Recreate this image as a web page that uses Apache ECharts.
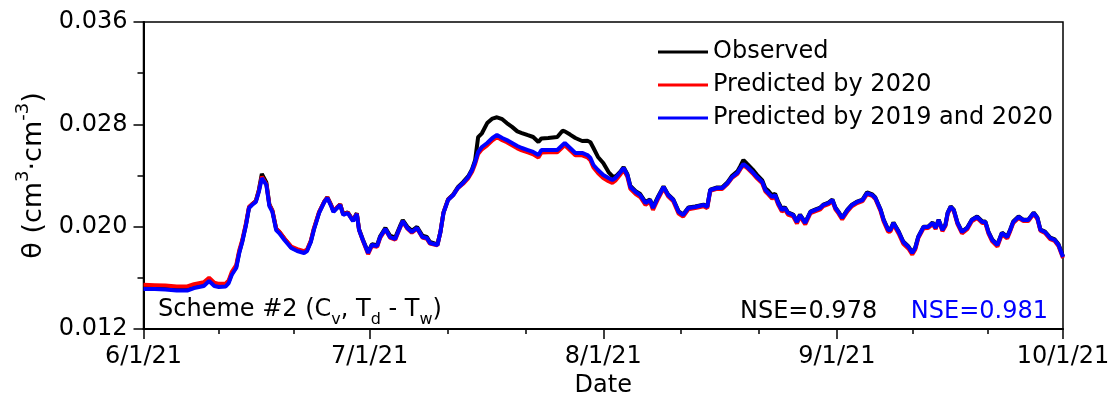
<!DOCTYPE html>
<html>
<head>
<meta charset="utf-8">
<script src="https://cdn.jsdelivr.net/npm/echarts@6/dist/echarts.min.js"></script>
<style>html,body{margin:0;padding:0;background:#fff;}#c{width:1116px;height:405px;}</style>
</head>
<body>
<div id="c"></div>
<script>
// days since 2021-06-01
const days = [
0.0,1.5,2.9,4.4,5.8,6.7,8.0,8.7,9.4,10.0,
10.9,11.3,11.7,12.3,12.7,13.1,13.6,14.0,14.4,14.9,
15.3,15.7,16.3,16.7,17.1,17.6,18.0,18.7,19.6,20.4,
21.3,21.7,22.2,22.6,23.3,24.0,24.4,24.9,25.2,25.7,
26.1,26.5,27.1,27.8,28.3,28.6,29.1,29.8,30.3,31.0,
31.4,32.1,32.7,33.4,34.0,34.4,35.0,35.6,36.3,37.0,
37.6,38.0,39.0,39.4,39.8,40.4,41.1,41.7,42.4,43.1,
43.6,44.0,44.4,44.9,45.6,46.3,46.9,47.6,48.2,48.9,
49.6,50.2,51.0,51.7,52.4,52.8,53.7,54.9,55.6,55.9,
56.6,57.3,58.2,58.9,59.3,59.7,60.3,61.0,61.7,62.2,
62.6,63.3,63.7,64.2,64.6,65.3,65.9,66.6,67.2,67.6,
68.3,69.0,69.6,70.3,71.0,71.6,72.3,73.2,74.3,74.8,
75.2,76.1,76.8,77.5,78.1,78.8,79.2,79.6,80.1,80.8,
81.4,82.1,82.5,82.9,83.4,83.8,84.2,84.7,85.1,85.5,
86.2,86.7,87.1,87.8,88.5,89.1,89.8,90.2,90.9,91.4,
91.8,92.2,92.7,93.4,94.0,94.7,95.4,96.0,96.7,97.1,
97.8,98.2,98.8,99.1,99.5,100.2,100.8,101.5,102.0,102.4,
102.8,103.5,104.1,104.7,105.1,105.5,106.0,106.4,106.7,107.1,
107.5,108.0,108.6,109.3,109.9,110.6,111.3,111.7,112.1,112.6,
113.3,113.9,114.6,115.0,115.4,116.1,116.7,117.4,118.1,118.6,
119.0,119.6,120.3,120.9,121.4,122.0
];
const observed = [
0.01528,0.01528,0.01524,0.01516,0.01516,0.01535,0.01551,0.01590,0.01551,0.01543,
0.01547,0.01570,0.01630,0.01685,0.01800,0.01885,0.02018,0.02150,0.02175,0.02200,
0.02285,0.02412,0.02345,0.02175,0.02125,0.01985,0.01960,0.01905,0.01840,0.01815,
0.01800,0.01815,0.01885,0.01980,0.02112,0.02198,0.02230,0.02168,0.02120,0.02150,
0.02175,0.02098,0.02112,0.02050,0.02105,0.01980,0.01900,0.01800,0.01862,0.01855,
0.01925,0.01990,0.01930,0.01915,0.02000,0.02052,0.02000,0.01968,0.01998,0.01930,
0.01920,0.01880,0.01862,0.01960,0.02110,0.02212,0.02252,0.02308,0.02348,0.02395,
0.02450,0.02520,0.02700,0.02730,0.02810,0.02845,0.02855,0.02840,0.02810,0.02780,
0.02745,0.02732,0.02715,0.02701,0.02662,0.02690,0.02693,0.02701,0.02750,0.02745,
0.02720,0.02693,0.02670,0.02672,0.02660,0.02615,0.02545,0.02498,0.02427,0.02395,
0.02390,0.02432,0.02465,0.02410,0.02318,0.02278,0.02255,0.02192,0.02212,0.02152,
0.02238,0.02315,0.02252,0.02212,0.02120,0.02096,0.02150,0.02158,0.02172,0.02158,
0.02290,0.02306,0.02308,0.02348,0.02398,0.02432,0.02475,0.02521,0.02490,0.02448,
0.02405,0.02362,0.02300,0.02280,0.02245,0.02258,0.02195,0.02138,0.02152,0.02112,
0.02095,0.02040,0.02095,0.02033,0.02118,0.02133,0.02150,0.02172,0.02188,0.02212,
0.02150,0.02118,0.02070,0.02133,0.02172,0.02196,0.02212,0.02268,0.02252,0.02228,
0.02133,0.02055,0.01978,0.01978,0.02033,0.01962,0.01884,0.01845,0.01798,0.01836,
0.01922,0.02000,0.02000,0.02032,0.01993,0.02055,0.01978,0.02016,0.02110,0.02158,
0.02133,0.02032,0.01962,0.01993,0.02055,0.02080,0.02040,0.02040,0.01962,0.01900,
0.01860,0.01953,0.01922,0.01978,0.02040,0.02080,0.02055,0.02055,0.02110,0.02072,
0.01978,0.01962,0.01915,0.01900,0.01862,0.01768
];
const pred2020 = [
0.01545,0.01543,0.01540,0.01532,0.01533,0.01550,0.01565,0.01600,0.01562,0.01553,
0.01555,0.01580,0.01645,0.01700,0.01815,0.01895,0.02028,0.02155,0.02175,0.02198,
0.02280,0.02390,0.02333,0.02170,0.02125,0.01985,0.01962,0.01908,0.01845,0.01825,
0.01808,0.01822,0.01890,0.01985,0.02115,0.02198,0.02228,0.02168,0.02122,0.02152,
0.02174,0.02095,0.02110,0.02048,0.02102,0.01975,0.01892,0.01786,0.01850,0.01842,
0.01912,0.01978,0.01915,0.01898,0.01985,0.02040,0.01985,0.01952,0.01985,0.01915,
0.01905,0.01868,0.01855,0.01960,0.02110,0.02210,0.02248,0.02300,0.02335,0.02380,
0.02430,0.02490,0.02568,0.02605,0.02636,0.02675,0.02700,0.02676,0.02660,0.02636,
0.02612,0.02596,0.02580,0.02566,0.02540,0.02580,0.02582,0.02582,0.02620,0.02636,
0.02597,0.02558,0.02558,0.02542,0.02518,0.02462,0.02420,0.02380,0.02355,0.02342,
0.02360,0.02410,0.02445,0.02390,0.02295,0.02255,0.02232,0.02170,0.02195,0.02132,
0.02220,0.02300,0.02238,0.02198,0.02102,0.02078,0.02135,0.02145,0.02160,0.02145,
0.02280,0.02295,0.02295,0.02335,0.02382,0.02412,0.02450,0.02480,0.02458,0.02418,
0.02378,0.02338,0.02276,0.02252,0.02220,0.02236,0.02172,0.02118,0.02135,0.02095,
0.02080,0.02025,0.02080,0.02018,0.02105,0.02120,0.02136,0.02160,0.02176,0.02200,
0.02136,0.02104,0.02056,0.02120,0.02160,0.02185,0.02200,0.02255,0.02240,0.02216,
0.02120,0.02040,0.01960,0.01962,0.02018,0.01945,0.01866,0.01828,0.01782,0.01822,
0.01910,0.01988,0.01990,0.02020,0.01982,0.02045,0.01965,0.02005,0.02100,0.02148,
0.02124,0.02020,0.01948,0.01980,0.02042,0.02068,0.02028,0.02028,0.01948,0.01885,
0.01845,0.01940,0.01908,0.01965,0.02028,0.02068,0.02045,0.02045,0.02098,0.02060,
0.01968,0.01950,0.01902,0.01888,0.01848,0.01755
];
const pred2019and2020 = [
0.01513,0.01513,0.01509,0.01501,0.01501,0.01520,0.01536,0.01575,0.01536,0.01528,
0.01532,0.01559,0.01622,0.01677,0.01794,0.01880,0.02013,0.02146,0.02169,0.02193,
0.02271,0.02380,0.02326,0.02161,0.02115,0.01974,0.01950,0.01896,0.01833,0.01810,
0.01794,0.01810,0.01880,0.01974,0.02107,0.02193,0.02224,0.02161,0.02115,0.02146,
0.02169,0.02091,0.02107,0.02044,0.02099,0.01974,0.01896,0.01794,0.01857,0.01849,
0.01919,0.01982,0.01919,0.01904,0.01990,0.02044,0.01990,0.01958,0.01990,0.01919,
0.01911,0.01872,0.01857,0.01958,0.02107,0.02208,0.02247,0.02302,0.02341,0.02388,
0.02443,0.02505,0.02584,0.02623,0.02654,0.02693,0.02717,0.02693,0.02677,0.02654,
0.02631,0.02615,0.02599,0.02584,0.02560,0.02599,0.02599,0.02599,0.02638,0.02654,
0.02615,0.02576,0.02576,0.02560,0.02537,0.02482,0.02443,0.02404,0.02380,0.02365,
0.02380,0.02427,0.02459,0.02404,0.02310,0.02271,0.02247,0.02185,0.02208,0.02146,
0.02232,0.02310,0.02247,0.02208,0.02115,0.02091,0.02146,0.02154,0.02169,0.02154,
0.02287,0.02302,0.02302,0.02341,0.02388,0.02420,0.02459,0.02490,0.02466,0.02427,
0.02388,0.02349,0.02287,0.02263,0.02232,0.02247,0.02185,0.02130,0.02146,0.02107,
0.02091,0.02036,0.02091,0.02029,0.02115,0.02130,0.02146,0.02169,0.02185,0.02208,
0.02146,0.02115,0.02068,0.02130,0.02169,0.02193,0.02208,0.02263,0.02247,0.02224,
0.02130,0.02052,0.01974,0.01974,0.02029,0.01958,0.01880,0.01841,0.01794,0.01833,
0.01919,0.01997,0.01997,0.02029,0.01990,0.02052,0.01974,0.02013,0.02107,0.02154,
0.02130,0.02029,0.01958,0.01990,0.02052,0.02076,0.02036,0.02036,0.01958,0.01896,
0.01857,0.01950,0.01919,0.01974,0.02036,0.02076,0.02052,0.02052,0.02107,0.02068,
0.01974,0.01958,0.01911,0.01896,0.01857,0.01763
];
const monthTickDays = [0, 30, 61, 92, 122];
const monthTickLabels = ['6/1/21', '7/1/21', '8/1/21', '9/1/21', '10/1/21'];
const minorTickDays = [10, 20, 40.33, 50.67, 71.33, 81.67, 102, 112];
const yTicks = { min: 0.012, max: 0.036, interval: 0.008 };
const seriesNames = ['Observed', 'Predicted by 2020', 'Predicted by 2019 and 2020'];
const seriesColors = ['#000000', '#ff0000', '#0000ff'];
const seriesValues = [observed, pred2020, pred2019and2020];

const FONT = 'DejaVu Sans';
const chart = echarts.init(document.getElementById('c'), null, { renderer: 'canvas' });
const pairs = arr => days.map((d, i) => [d, arr[i]]);

chart.setOption({
  animation: false,
  backgroundColor: '#fff',
  textStyle: { fontFamily: FONT, color: '#000' },
  grid: { left: 143.5, right: 53, top: 22, bottom: 76, show: true, borderColor: '#000', borderWidth: 1.5, backgroundColor: 'transparent' },
  legend: {
    orient: 'vertical', left: 653, top: 35, itemWidth: 50, itemHeight: 3, itemGap: 9,
    icon: 'rect',
    textStyle: { fontFamily: FONT, fontSize: 24, color: '#000' },
    data: seriesNames
  },
  xAxis: [{
    type: 'value', min: 0, max: 122,
    name: 'Date', nameLocation: 'middle', nameGap: 45,
    nameTextStyle: { fontFamily: FONT, fontSize: 24, color: '#000' },
    axisLine: { show: true, lineStyle: { color: '#000', width: 2 } },
    axisTick: { show: true, inside: false, length: 10, lineStyle: { color: '#000', width: 1.5 }, customValues: monthTickDays },
    axisLabel: { fontFamily: FONT, fontSize: 24, color: '#000', margin: 16, customValues: monthTickDays,
      formatter: v => { const i = monthTickDays.indexOf(Math.round(v)); return i >= 0 ? monthTickLabels[i] : ''; } },
    splitLine: { show: false }
  }, {
    type: 'value', min: 0, max: 122, position: 'bottom',
    axisLine: { show: false },
    axisTick: { show: true, inside: false, length: 5, lineStyle: { color: '#000', width: 1.5 }, customValues: minorTickDays },
    axisLabel: { show: false },
    splitLine: { show: false }
  }],
  yAxis: {
    type: 'value', min: yTicks.min, max: yTicks.max, interval: yTicks.interval,
    name: '{a|θ (cm}{sup|3}{a|·cm}{sup|-3}{a|)}',
    nameLocation: 'middle', nameGap: 90, nameRotate: 90,
    nameTextStyle: { fontFamily: FONT, fontSize: 26, color: '#000',
      rich: {
        a: { fontFamily: FONT, fontSize: 27, color: '#000', lineHeight: 34, verticalAlign: 'bottom' },
        sup: { fontFamily: FONT, fontSize: 18, color: '#000', lineHeight: 34, verticalAlign: 'top' }
      } },
    axisLine: { show: true, lineStyle: { color: '#000', width: 2 } },
    axisTick: { show: true, inside: false, length: 10, lineStyle: { color: '#000', width: 1.5 } },
    minorTick: { show: true, splitNumber: 2, length: 6, lineStyle: { color: '#000', width: 1.5 } },
    axisLabel: { fontFamily: FONT, fontSize: 24, color: '#000', margin: 16, formatter: v => v.toFixed(3) },
    splitLine: { show: false }
  },
  series: seriesNames.map((n, k) => ({
    name: n, type: 'line', xAxisIndex: 0, yAxisIndex: 0,
    data: pairs(seriesValues[k]),
    showSymbol: false, symbol: 'none', smooth: false,
    lineStyle: { color: seriesColors[k], width: 4 },
    itemStyle: { color: seriesColors[k] },
    z: 2 + k
  })),
  graphic: [
    { type: 'text', left: 158, top: 298, z: 10,
      style: { text: '{t|Scheme #2 (C}{s|v}{t|, T}{s|d}{t| - T}{s|w}{t|)}',
        rich: {
          t: { fontFamily: FONT, fontSize: 24, fill: '#000', lineHeight: 30, verticalAlign: 'top' },
          s: { fontFamily: FONT, fontSize: 16, fill: '#000', lineHeight: 30, verticalAlign: 'bottom' }
        } } },
    { type: 'text', left: 740, top: 300, z: 10,
      style: { text: 'NSE=0.978', font: '24px "DejaVu Sans"', fill: '#000' } },
    { type: 'text', right: 68, top: 300, z: 10,
      style: { text: 'NSE=0.981', font: '24px "DejaVu Sans"', fill: '#0000ff' } }
  ]
});
</script>
</body>
</html>
